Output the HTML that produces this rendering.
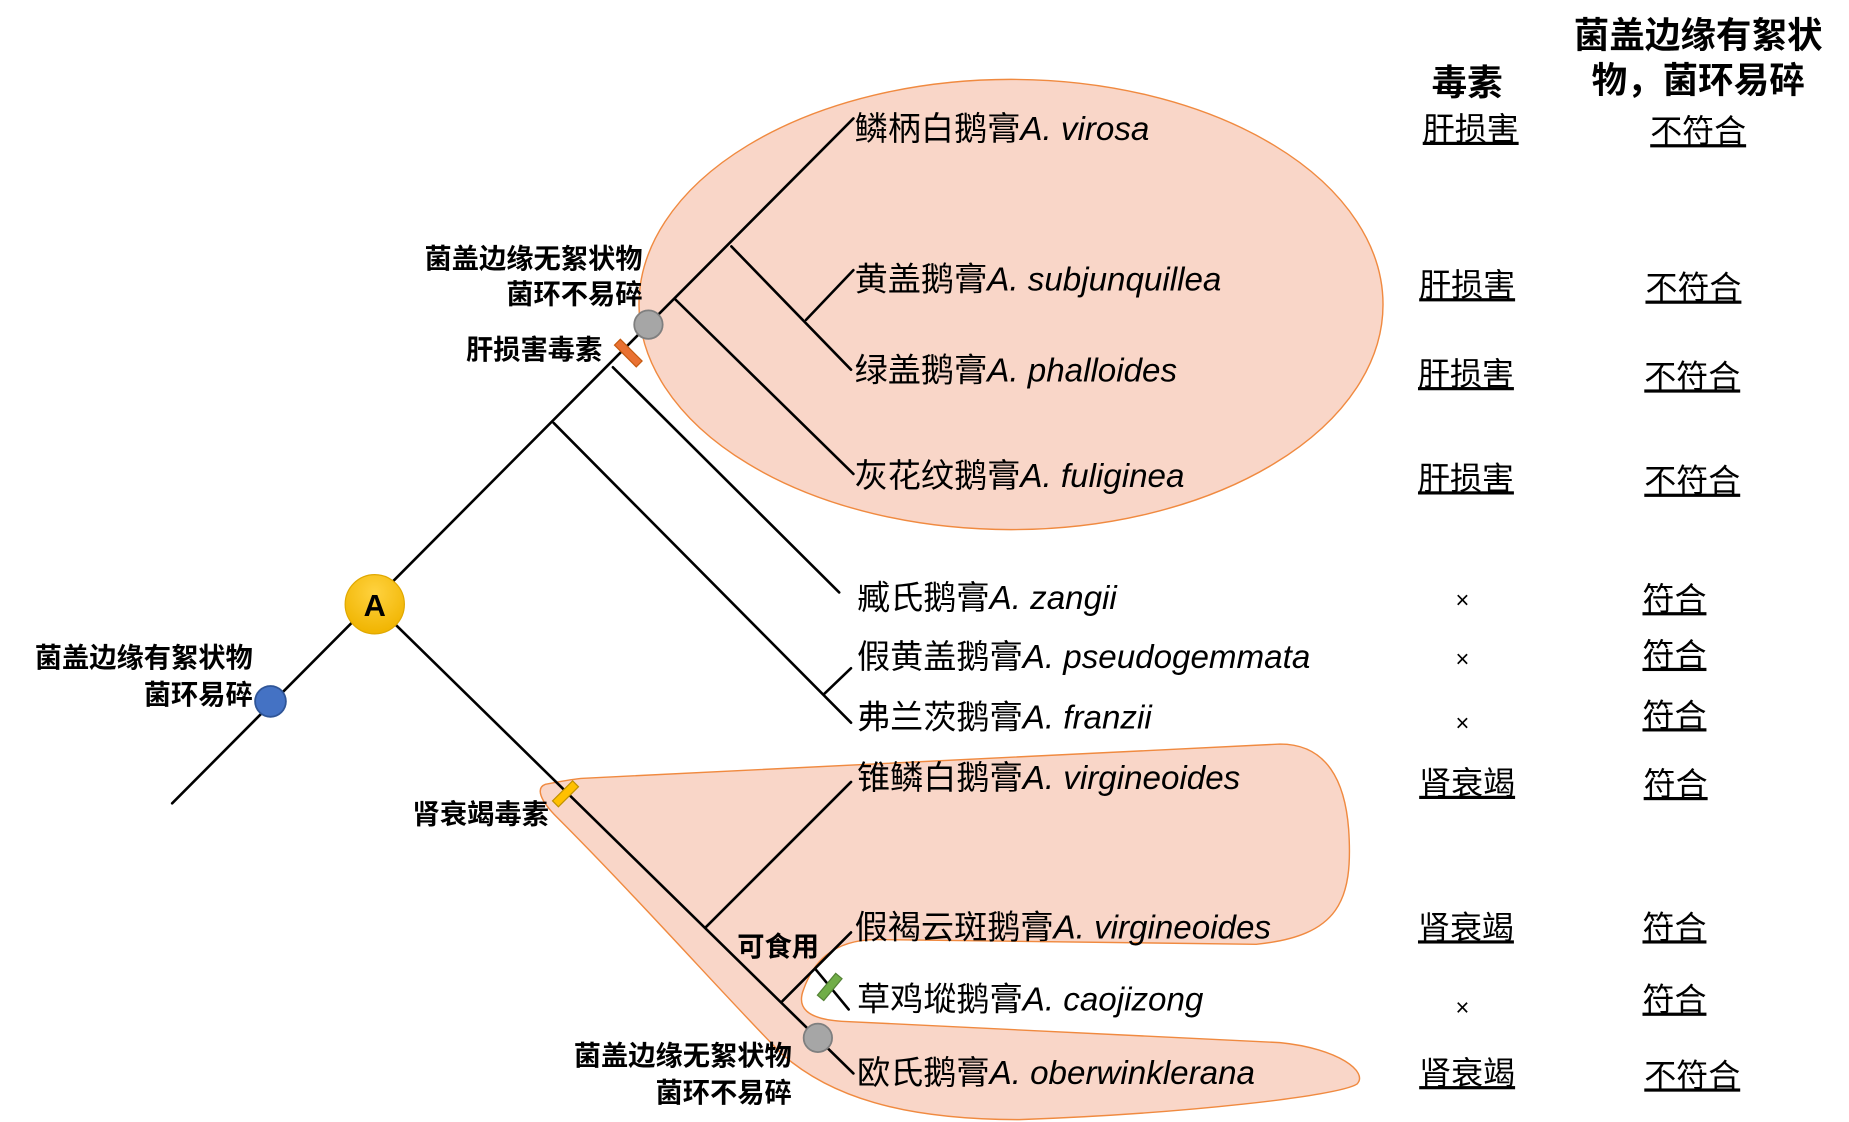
<!DOCTYPE html>
<html><head><meta charset="utf-8"><style>
html,body{margin:0;padding:0;background:#fff;}
svg{display:block;}
text{font-family:"Liberation Sans","Noto Sans CJK SC",sans-serif;}
.sp{font-size:28px;fill:#000;}
.it{font-style:italic;}
.lb{font-size:23px;font-weight:bold;}
.col{font-size:27px;text-decoration:underline;}
.x{font-size:20px;}
.hd{font-size:30px;font-weight:bold;}
</style></head><body>
<svg width="1849" height="1122" viewBox="0 0 1560 947" xmlns="http://www.w3.org/2000/svg">
<defs>
<radialGradient id="ga" cx="0.5" cy="0.3" r="0.7"><stop offset="0" stop-color="#ffd23f"/><stop offset="1" stop-color="#f0b400"/></radialGradient>
</defs>
<ellipse cx="853" cy="257" rx="314" ry="190" fill="#f9d6c8" stroke="#f08a40" stroke-width="1.2"/>
<path d="M460,662 C470,660 480,658 490,657 L1080,628 C1120,628 1135,660 1138,700 C1142,760 1130,790 1060,797 L740,793 C700,793 685,815 678,835 C672,850 680,860 710,862 L1080,880 C1130,885 1155,905 1145,915 C1130,925 1000,940 860,945 C760,945 700,925 660,890 C620,850 540,760 470,690 C455,675 452,665 460,662 Z" fill="#f9d6c8" stroke="#f08a40" stroke-width="1.2"/>
<g stroke="#000" stroke-width="2.2" fill="none" stroke-linecap="round">
<line x1="145" y1="678" x2="720" y2="100"/>
<line x1="467" y1="357" x2="718" y2="610"/>
<line x1="695" y1="586" x2="718" y2="564"/>
<line x1="517" y1="310" x2="708" y2="500"/>
<line x1="570" y1="253" x2="720" y2="400"/>
<line x1="617" y1="208" x2="718" y2="312"/>
<line x1="680" y1="270" x2="720" y2="228"/>
<line x1="316" y1="510" x2="720" y2="906"/>
<line x1="595" y1="783" x2="718" y2="660"/>
<line x1="660" y1="845" x2="718" y2="787"/>
<line x1="688" y1="818" x2="716" y2="852"/>
</g>
<circle cx="547" cy="274" r="12" fill="#a6a6a6" stroke="#7f7f7f" stroke-width="1.5"/>
<rect x="517" y="294.5" width="26" height="7" fill="#e97132" stroke="#c55a11" stroke-width="1" transform="rotate(45 530 298)"/>
<circle cx="228" cy="592" r="13" fill="#4472c4" stroke="#2f5597" stroke-width="1.5"/>
<circle cx="316" cy="510" r="25" fill="url(#ga)" stroke="#e0a800" stroke-width="1"/>
<text x="316" y="520" text-anchor="middle" style="font-size:26px;font-weight:bold;">A</text>
<rect x="465" y="666.5" width="24" height="7" fill="#ffc000" stroke="#bf9000" stroke-width="1" transform="rotate(-45 477 670)"/>
<rect x="688" y="829.5" width="24" height="7" fill="#70ad47" stroke="#548235" stroke-width="1" transform="rotate(-50 700 833)"/>
<circle cx="690" cy="876" r="12" fill="#a6a6a6" stroke="#7f7f7f" stroke-width="1.5"/>
<text class="sp" x="721" y="118">鳞柄白鹅膏<tspan class="it">A. virosa</tspan></text>
<text class="sp" x="721" y="245">黄盖鹅膏<tspan class="it">A. subjunquillea</tspan></text>
<text class="sp" x="721" y="322">绿盖鹅膏<tspan class="it">A. phalloides</tspan></text>
<text class="sp" x="721" y="411">灰花纹鹅膏<tspan class="it">A. fuliginea</tspan></text>
<text class="sp" x="723" y="514">臧氏鹅膏<tspan class="it">A. zangii</tspan></text>
<text class="sp" x="723" y="564">假黄盖鹅膏<tspan class="it">A. pseudogemmata</tspan></text>
<text class="sp" x="723" y="615">弗兰茨鹅膏<tspan class="it">A. franzii</tspan></text>
<text class="sp" x="723" y="666">锥鳞白鹅膏<tspan class="it">A. virgineoides</tspan></text>
<text class="sp" x="721" y="792">假褐云斑鹅膏<tspan class="it">A. virgineoides</tspan></text>
<text class="sp" x="723" y="853">草鸡㙡鹅膏<tspan class="it">A. caojizong</tspan></text>
<text class="sp" x="723" y="915">欧氏鹅膏<tspan class="it">A. oberwinklerana</tspan></text>
<text x="542" y="226" text-anchor="end" class="lb">菌盖边缘无絮状物</text>
<text x="542" y="256" text-anchor="end" class="lb">菌环不易碎</text>
<text x="508" y="303" text-anchor="end" class="lb">肝损害毒素</text>
<text x="213" y="563" text-anchor="end" class="lb">菌盖边缘有絮状物</text>
<text x="213" y="594" text-anchor="end" class="lb">菌环易碎</text>
<text x="463" y="695" text-anchor="end" class="lb">肾衰竭毒素</text>
<text x="622" y="807" class="lb">可食用</text>
<text x="668" y="899" text-anchor="end" class="lb">菌盖边缘无絮状物</text>
<text x="668" y="930" text-anchor="end" class="lb">菌环不易碎</text>
<text class="hd" x="1238" y="80" text-anchor="middle">毒素</text>
<text class="hd" x="1433" y="40" text-anchor="middle">菌盖边缘有絮状</text>
<text class="hd" x="1433" y="78" text-anchor="middle">物，菌环易碎</text>
<g text-anchor="middle">
<text class="col" x="1241" y="118">肝损害</text>
<text class="col" x="1238" y="250">肝损害</text>
<text class="col" x="1237" y="325">肝损害</text>
<text class="col" x="1237" y="413">肝损害</text>
<text class="x" x="1234" y="513">×</text>
<text class="x" x="1234" y="563">×</text>
<text class="x" x="1234" y="617">×</text>
<text class="col" x="1238" y="670">肾衰竭</text>
<text class="col" x="1237" y="792">肾衰竭</text>
<text class="x" x="1234" y="857">×</text>
<text class="col" x="1238" y="915">肾衰竭</text>
<text class="col" x="1433" y="120">不符合</text>
<text class="col" x="1429" y="252">不符合</text>
<text class="col" x="1428" y="327">不符合</text>
<text class="col" x="1428" y="415">不符合</text>
<text class="col" x="1413" y="515">符合</text>
<text class="col" x="1413" y="562">符合</text>
<text class="col" x="1413" y="613">符合</text>
<text class="col" x="1414" y="671">符合</text>
<text class="col" x="1413" y="792">符合</text>
<text class="col" x="1413" y="853">符合</text>
<text class="col" x="1428" y="917">不符合</text>
</g>
</svg>
</body></html>
